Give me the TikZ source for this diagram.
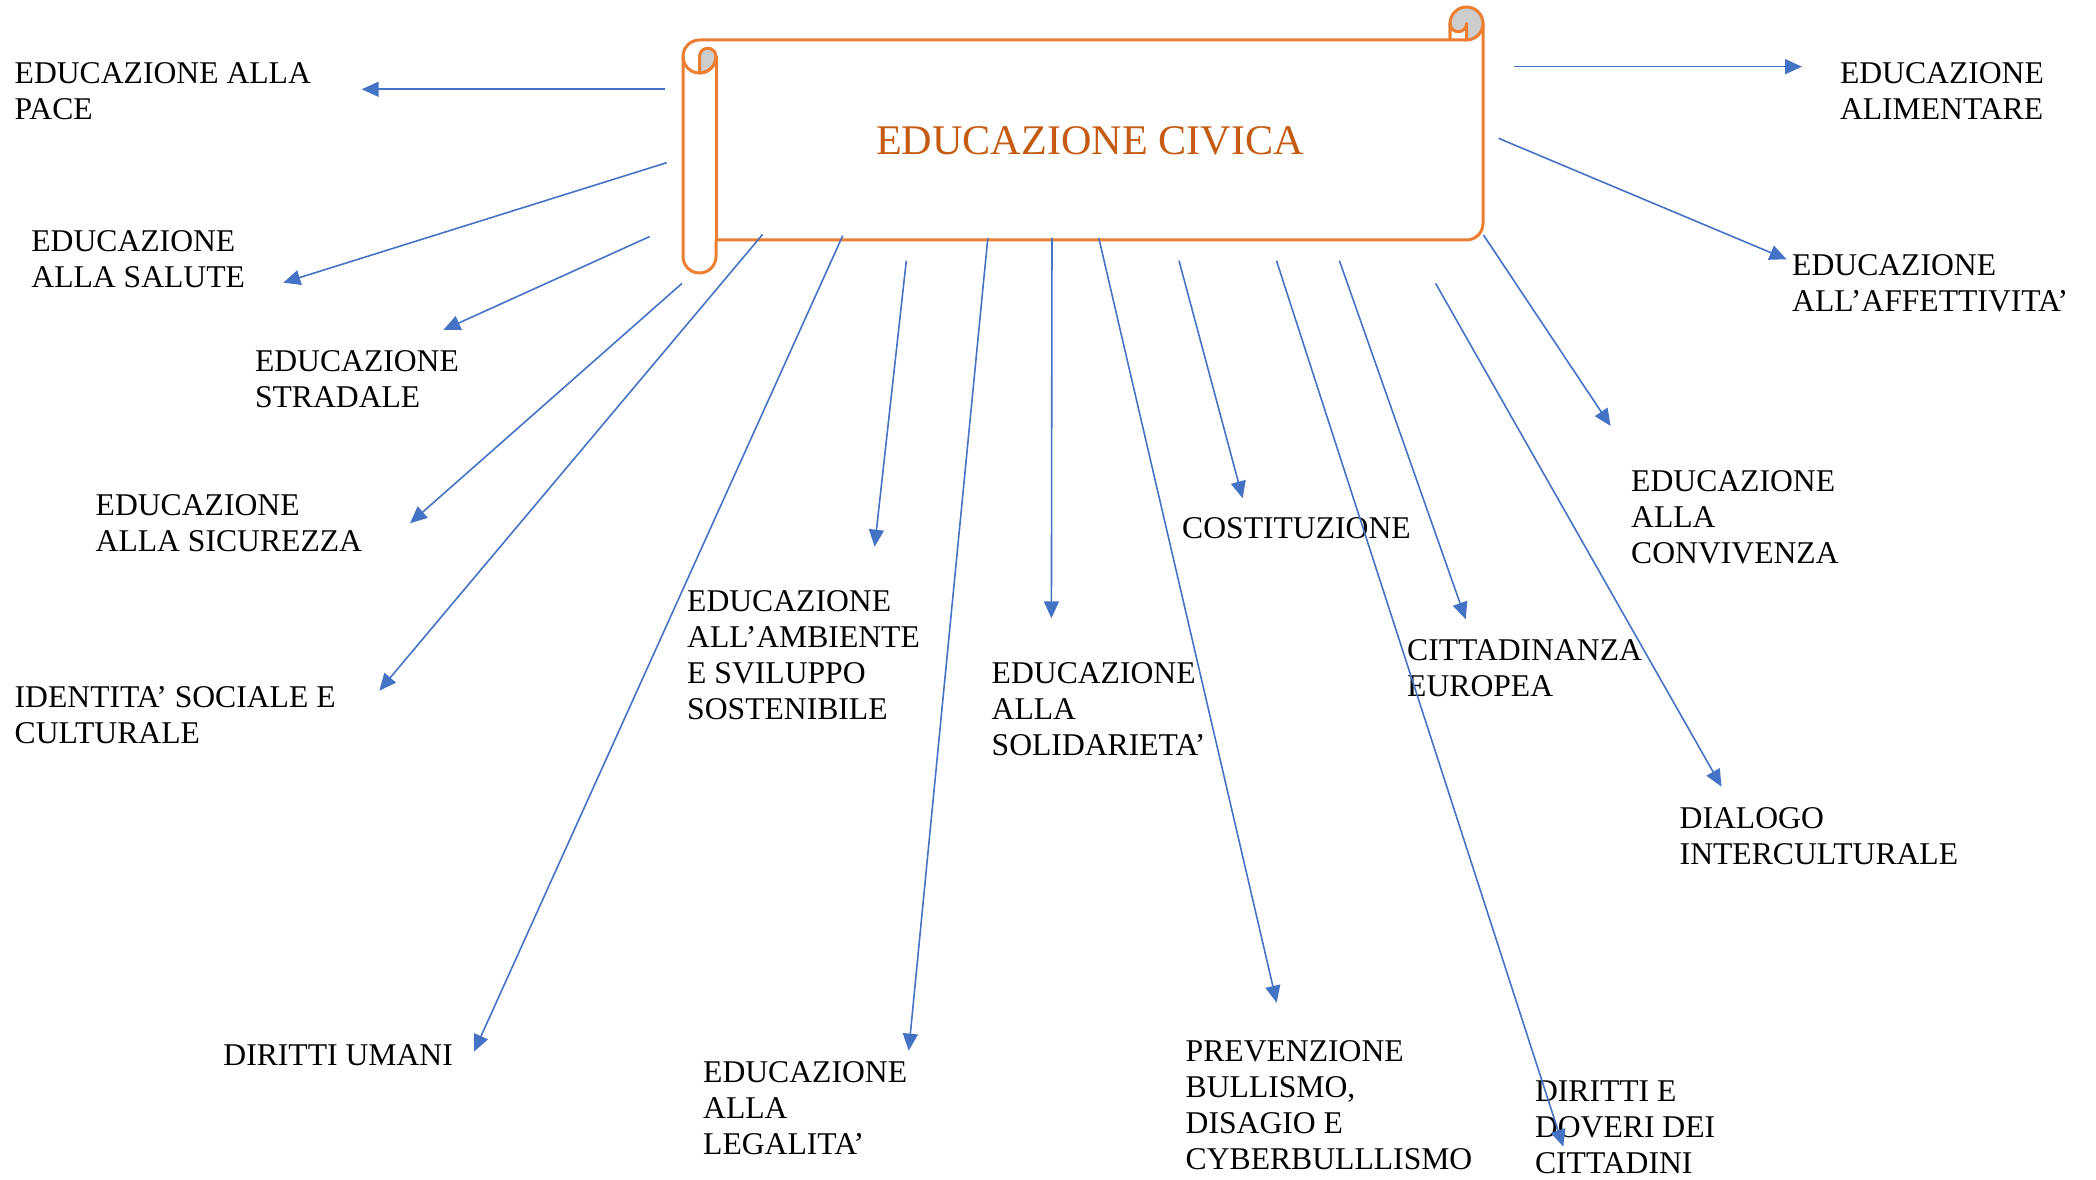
\documentclass[tikz,border=0pt]{standalone}
\usepackage{fontspec}
\setmainfont{Liberation Serif}
\usepackage{tikz}
\usetikzlibrary{arrows.meta}
\definecolor{scrollline}{HTML}{ED7D31}
\definecolor{titleorange}{HTML}{C55A11}
\definecolor{arrowblue}{HTML}{4472C4}
\definecolor{curlgray}{HTML}{CDCDCD}
\tikzset{
topic/.style={anchor=north west, inner sep=0pt, align=left, font=\fontsize{9}{10.25}\selectfont}, % the labels round the scroll
link/.style={-{Triangle[length=0.17cm,width=0.15cm,fill=arrowblue]}, draw=arrowblue, line width=0.45pt}, % blue arrows
roll/.style={draw=scrollline, line width=0.85pt, line join=round}, % outline of the scroll
}

\begin{document}
\begin{tikzpicture}[x=0.01cm, y=-0.01cm]
\useasboundingbox (0,0) rectangle (2096,1180);
% the scroll
\draw[roll] (1483,23.5) -- (1483,223.5) arc[start angle=0, end angle=90, radius=16.5] -- (716,240) -- (716,256.5)
  arc[start angle=0, end angle=180, radius=16.5] -- (683,56.5) arc[start angle=180, end angle=270, radius=16.5] -- (1450,40) -- (1450,23.5);
\draw[roll] (716,56.5) -- (716,240);
\filldraw[roll, fill=curlgray] (1466.5,23.5) circle[radius=16.5];
\filldraw[roll, fill=white] (1450,23.5) -- (1450,40) -- (1466.5,40) -- (1466.5,23.5) arc[start angle=0, end angle=180, radius=8.25] -- cycle;
\filldraw[roll, fill=curlgray] (699.5,73) -- (699.5,56.5) arc[start angle=180, end angle=360, radius=8.25] arc[start angle=0, end angle=90, radius=16.5] -- cycle;
\draw[roll] (683,56.5) arc[start angle=180, end angle=0, radius=16.5];
\node[font=\fontsize{12}{14}\selectfont, text=titleorange] (civica) at (1090,140.5) {EDUCAZIONE CIVICA};

% labels
\node[topic] (pace) at (14,62) {EDUCAZIONE ALLA\\PACE};
\node[topic] (salute) at (30.7,230) {EDUCAZIONE\\ALLA SALUTE};
\node[topic] (stradale) at (254.3,350) {EDUCAZIONE\\STRADALE};
\node[topic] (sicurezza) at (95,494) {EDUCAZIONE\\ALLA SICUREZZA};
\node[topic] (identita) at (14,686) {IDENTITA’ SOCIALE E\\CULTURALE};
\node[topic] (umani) at (222.7,1043.5) {DIRITTI UMANI};
\node[topic] (ambiente) at (686.5,590) {EDUCAZIONE\\ALL’AMBIENTE\\E SVILUPPO\\SOSTENIBILE};
\node[topic] (legalita) at (702.5,1060.5) {EDUCAZIONE\\ALLA\\LEGALITA’};
\node[topic] (solidarieta) at (991,661.7) {EDUCAZIONE\\ALLA\\SOLIDARIETA’};
\node[topic] (bullismo) at (1185,1040) {PREVENZIONE\\BULLISMO,\\DISAGIO E\\CYBERBULLLISMO};
\node[topic] (costituzione) at (1181.5,517.3) {COSTITUZIONE};
\node[topic] (doveri) at (1534.3,1080) {DIRITTI E\\DOVERI DEI\\CITTADINI};
\node[topic] (europea) at (1406.5,639.3) {CITTADINANZA\\EUROPEA};
\node[topic] (dialogo) at (1679,807.3) {DIALOGO\\INTERCULTURALE};
\node[topic] (convivenza) at (1630.5,470) {EDUCAZIONE\\ALLA\\CONVIVENZA};
\node[topic] (affettivita) at (1791.5,254) {EDUCAZIONE\\ALL’AFFETTIVITA’};
\node[topic] (alimentare) at (1839.3,62.3) {EDUCAZIONE\\ALIMENTARE};

% arrow ends
\coordinate (pace0) at (665,89.3);          \coordinate (pace1) at (361.7,89.3);
\coordinate (salute0) at (666.7,162.7);     \coordinate (salute1) at (283.3,282.7);
\coordinate (stradale0) at (649.6,236.6);   \coordinate (stradale1) at (443.3,330);
\coordinate (sicurezza0) at (682,283.4);    \coordinate (sicurezza1) at (410,523.3);
\coordinate (identita0) at (762.7,234.3);   \coordinate (identita1) at (379.3,690.7);
\coordinate (umani0) at (842.7,235.7);      \coordinate (umani1) at (474,1051.7);
\coordinate (ambiente0) at (906.3,260.7);   \coordinate (ambiente1) at (874.6,546.7);
\coordinate (legalita0) at (987.8,238);     \coordinate (legalita1) at (908.7,1050.7);
\coordinate (solidarieta0) at (1052,238);   \coordinate (solidarieta1) at (1051.4,618.3);
\coordinate (bullismo0) at (1098.8,238);    \coordinate (bullismo1) at (1276.7,1002.7);
\coordinate (costituzione0) at (1179,260.7); \coordinate (costituzione1) at (1242.7,498.3);
\coordinate (doveri0) at (1276.5,260.7);    \coordinate (doveri1) at (1563.3,1146.7);
\coordinate (europea0) at (1339.4,260.7);   \coordinate (europea1) at (1465.7,619.3);
\coordinate (dialogo0) at (1435.6,283.4);   \coordinate (dialogo1) at (1721.5,786.7);
\coordinate (convivenza0) at (1483.5,235);  \coordinate (convivenza1) at (1610.6,426);
\coordinate (affettivita0) at (1498.5,138.3); \coordinate (affettivita1) at (1786.6,259.3);
\coordinate (alimentare0) at (1514,66.7);   \coordinate (alimentare1) at (1802,66.7);

\draw[link] (pace0) -- (pace1);
\draw[link] (salute0) -- (salute1);
\draw[link] (stradale0) -- (stradale1);
\draw[link] (sicurezza0) -- (sicurezza1);
\draw[link] (identita0) -- (identita1);
\draw[link] (umani0) -- (umani1);
\draw[link] (ambiente0) -- (ambiente1);
\draw[link] (legalita0) -- (legalita1);
\draw[link] (solidarieta0) -- (solidarieta1);
\draw[link] (bullismo0) -- (bullismo1);
\draw[link] (costituzione0) -- (costituzione1);
\draw[link] (doveri0) -- (doveri1);
\draw[link] (europea0) -- (europea1);
\draw[link] (dialogo0) -- (dialogo1);
\draw[link] (convivenza0) -- (convivenza1);
\draw[link] (affettivita0) -- (affettivita1);
\draw[link] (alimentare0) -- (alimentare1);
\end{tikzpicture}
\end{document}
